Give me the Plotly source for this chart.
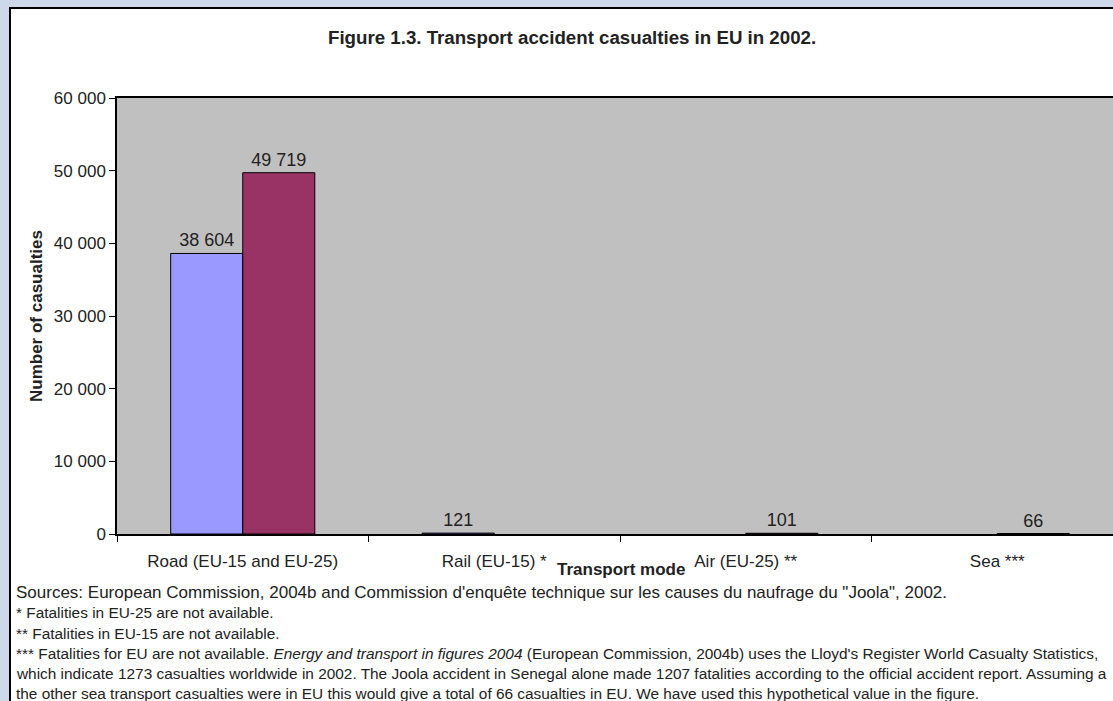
import plotly.graph_objects as go

categories = ["Road (EU-15 and EU-25)", "Rail (EU-15) *", "Air (EU-25) **", "Sea ***"]
eu15 = [38604, 121, None, None]
eu25 = [49719, None, 101, 66]
series_names = ["EU-15", "EU-25"]
y_ticks = [0, 10000, 20000, 30000, 40000, 50000, 60000]

title_text = "Figure 1.3. Transport accident casualties in EU in 2002."
y_title = "Number of casualties"
x_title = "Transport mode"
footnotes = [
    "Sources: European Commission, 2004b and Commission d'enquête technique sur les causes du naufrage du \"Joola\", 2002.",
    "* Fatalities in EU-25 are not available.",
    "** Fatalities in EU-15 are not available.",
    "*** Fatalities for EU are not available. <i>Energy and transport in figures 2004</i> (European Commission, 2004b) uses the Lloyd's Register World Casualty Statistics,",
    "which indicate 1273 casualties worldwide in 2002. The Joola accident in Senegal alone made 1207 fatalities according to the official accident report. Assuming a",
    "the other sea transport casualties were in EU this would give a total of 66 casualties in EU. We have used this hypothetical value in the figure.",
]

W, H = 1113, 701
L, T, B = 117, 98, 534
plot_w = W - L
plot_h = B - T
cat_w = 251.5

FONT = "Liberation Sans, Arial, sans-serif"

def px_x(px):
    return (px - L) / plot_w

def px_y(py):
    return (B - py) / plot_h

fig = go.Figure()
colors = ["#9999ff", "#993366"]
for name, vals, col in zip(series_names, [eu15, eu25], colors):
    fig.add_trace(go.Bar(
        x=categories, y=vals, name=name,
        marker=dict(color=col, line=dict(color="#000000", width=1)),
        texttemplate="%{y:,}", textposition="outside",
        textfont=dict(family=FONT, size=18, color="#222222"),
        cliponaxis=False,
    ))

shapes = [
    dict(type="rect", xref="paper", yref="paper", layer="below",
         x0=px_x(10), x1=px_x(W + 50), y0=px_y(H + 50), y1=px_y(8),
         fillcolor="#ffffff", line=dict(color="#000000", width=2)),
    dict(type="rect", xref="paper", yref="paper", layer="below",
         x0=0, x1=1, y0=0, y1=1, fillcolor="#c0c0c0", line=dict(width=0)),
]

annotations = [
    dict(text="<b>" + title_text + "</b>", xref="paper", yref="paper",
         x=px_x(572), y=px_y(37), xanchor="center", yanchor="middle", showarrow=False,
         font=dict(family=FONT, size=18.7, color="#222222")),
    dict(text="<b>" + y_title + "</b>", xref="paper", yref="paper", textangle=-90,
         x=px_x(36), y=px_y(316), xanchor="center", yanchor="middle", showarrow=False,
         font=dict(family=FONT, size=17, color="#222222")),
    dict(text="<b>" + x_title + "</b>", xref="paper", yref="paper",
         x=px_x(621), y=px_y(569), xanchor="center", yanchor="middle", showarrow=False,
         font=dict(family=FONT, size=17, color="#222222")),
]
foot_y = [592, 612, 633, 653, 673, 693]
foot_sizes = [17, 15.4, 15.4, 15.4, 15.4, 15.4]
for txt, yy, fs in zip(footnotes, foot_y, foot_sizes):
    annotations.append(dict(text=txt, xref="paper", yref="paper",
                            x=px_x(14), y=px_y(yy), xanchor="left", yanchor="middle",
                            showarrow=False, font=dict(family=FONT, size=fs, color="#222222")))

fig.update_layout(
    width=W, height=H,
    margin=dict(l=L, r=0, t=T, b=H - B, pad=0),
    paper_bgcolor="#cdd9ea",
    plot_bgcolor="#c0c0c0",
    separators=". ",
    barmode="group", bargap=0.427, bargroupgap=0,
    showlegend=False,
    shapes=shapes,
    annotations=annotations,
    xaxis=dict(
        type="category", range=[-0.5, -0.5 + plot_w / cat_w],
        tickson="boundaries", ticks="outside", ticklen=6, tickcolor="#000000",
        showline=True, linecolor="#000000", linewidth=1.5, mirror=True,
        showgrid=False, zeroline=False, ticklabelstandoff=11,
        tickfont=dict(family=FONT, size=17, color="#222222"),
    ),
    yaxis=dict(
        range=[0, 60000], tickvals=y_ticks, tickformat=",",
        ticks="outside", ticklen=6, tickcolor="#000000",
        showline=True, linecolor="#000000", linewidth=1.5,
        showgrid=False, zeroline=False,
        tickfont=dict(family=FONT, size=17, color="#222222"),
    ),
)

fig.write_html(
    "out.html",
    config={"displayModeBar": False},
    post_script="document.body.style.margin='0';document.body.style.overflow='hidden';document.body.style.background='#cdd9ea';",
)
